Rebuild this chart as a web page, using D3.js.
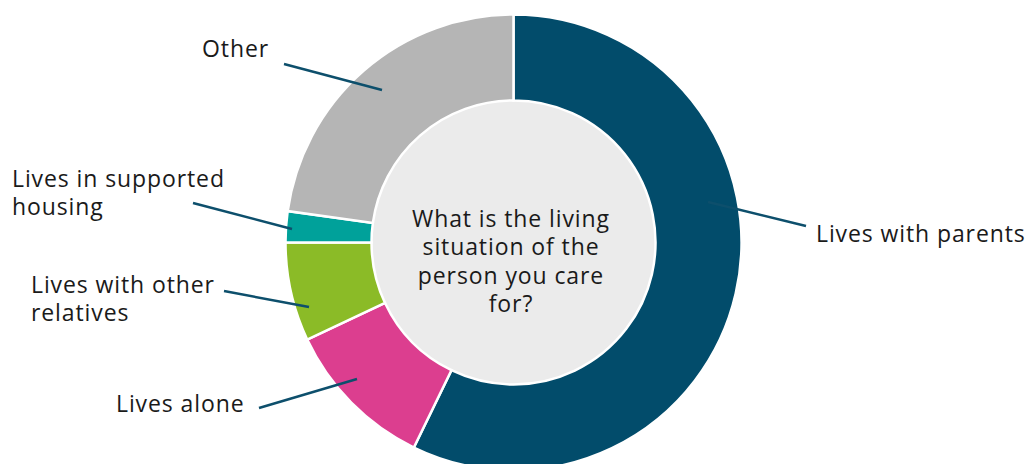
<!DOCTYPE html>
<html>
<head>
<meta charset="utf-8">
<script src="https://cdn.jsdelivr.net/npm/d3@7"></script>
<style>
  html, body { margin: 0; padding: 0; background: #ffffff; }
  svg { display: block; }
  text { font-family: "Open Sans", sans-serif; fill: #1a1a1a; letter-spacing: 0.9px; }
</style>
</head>
<body>
<svg id="chart" width="1028" height="464"></svg>
<script>
// Living situation of the cared-for person (share of respondents, %)
const categories = ["Lives with parents", "Lives alone", "Lives with other relatives", "Lives in supported housing", "Other"];
const values = [57.2, 10.8, 7.0, 2.2, 22.8];
const colors = ["#024c6b", "#dc3e8f", "#8bbb27", "#00a19a", "#b5b5b5"];
const centerTitle = ["What is the living", "situation of the", "person you care", "for?"];

// Label text split over lines, plus placement of each callout
const labelLines = [["Lives with parents"], ["Lives alone"], ["Lives with other", "relatives"], ["Lives in supported", "housing"], ["Other"]];
const labelLayout = [
  { x: 816, y: 242, anchor: "start", from: [806, 226], to: [708, 202] },
  { x: 116, y: 412, anchor: "start", from: [259, 408], to: [357, 379] },
  { x: 31,  y: 293, anchor: "start", from: [224, 291], to: [309, 307] },
  { x: 12,  y: 187, anchor: "start", from: [193, 203], to: [292, 229] },
  { x: 202, y: 57,  anchor: "start", from: [284, 64],  to: [382, 90] }
];

const cx = 513.5, cy = 242.5, outerR = 228, innerR = 142;
const fontSize = "23px";
const svg = d3.select("#chart");

const pie = d3.pie().value(d => d).sort(null);
const arc = d3.arc().innerRadius(innerR).outerRadius(outerR);
const arcs = pie(values);

const g = svg.append("g").attr("transform", `translate(${cx},${cy})`);

// Centre disc
g.append("circle").attr("r", innerR).attr("fill", "#ebebeb");

// Ring segments
g.selectAll("path.slice")
  .data(arcs)
  .join("path")
  .attr("class", "slice")
  .attr("d", arc)
  .attr("fill", (d, i) => colors[i])
  .attr("stroke", "#ffffff")
  .attr("stroke-width", 2.5)
  .attr("stroke-linejoin", "miter");

// Centre question
const lineH = 28.5;
const ct = svg.append("text")
  .attr("x", 511)
  .attr("y", 226.5)
  .attr("text-anchor", "middle")
  .style("font-size", fontSize);
centerTitle.forEach((t, i) => {
  ct.append("tspan").attr("x", 511).attr("dy", i === 0 ? 0 : lineH).text(t);
});

// Callout leader lines
svg.selectAll("line.leader")
  .data(labelLayout)
  .join("line")
  .attr("class", "leader")
  .attr("x1", d => d.from[0]).attr("y1", d => d.from[1])
  .attr("x2", d => d.to[0]).attr("y2", d => d.to[1])
  .attr("stroke", "#0d4f6c")
  .attr("stroke-width", 2.5);

// Callout labels
labelLayout.forEach((p, i) => {
  const t = svg.append("text")
    .attr("x", p.x).attr("y", p.y)
    .attr("text-anchor", p.anchor)
    .style("font-size", fontSize);
  labelLines[i].forEach((s, j) => {
    t.append("tspan").attr("x", p.x).attr("dy", j === 0 ? 0 : 28).text(s);
  });
});
</script>
</body>
</html>
